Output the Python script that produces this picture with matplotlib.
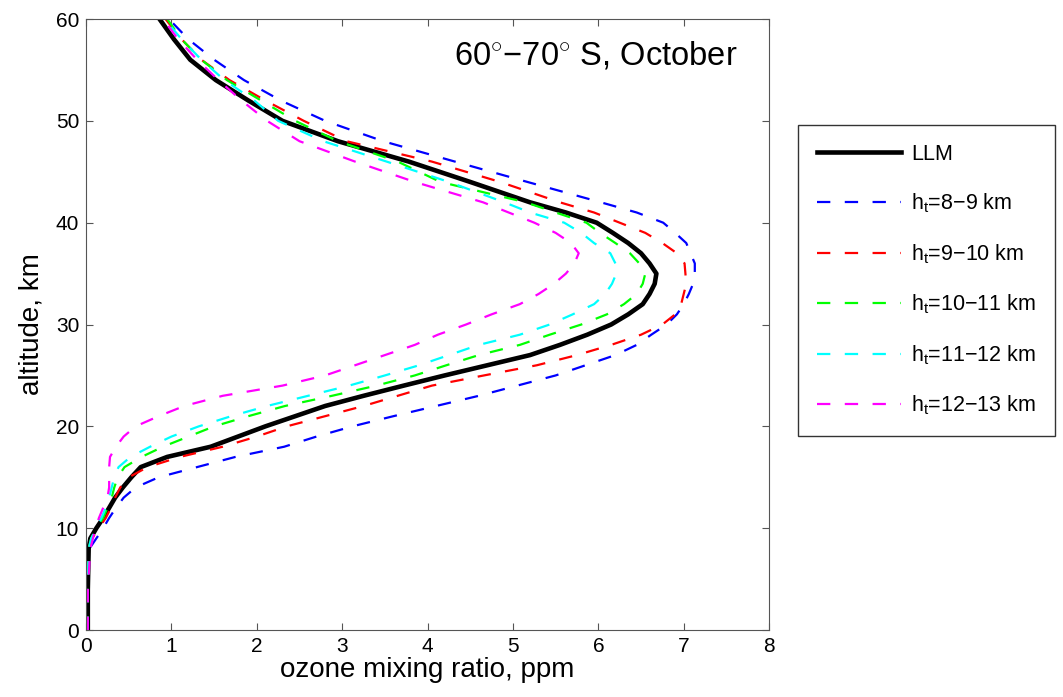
import matplotlib
matplotlib.use("Agg")
import matplotlib.pyplot as plt

plt.rcParams['font.family'] = ['Liberation Sans', 'DejaVu Sans']
plt.rcParams['mathtext.fontset'] = 'custom'
plt.rcParams['mathtext.rm'] = 'Liberation Sans'
plt.rcParams['mathtext.it'] = 'Liberation Sans'

# altitude grid, km
altitude = [0, 4, 8, 9, 10, 11, 12, 13, 14, 15, 16, 17, 18, 19, 20, 21, 22, 23,
            24, 25, 26, 27, 28, 29, 30, 31, 32, 33, 34, 35, 36, 37, 38, 39, 40,
            41, 42, 44, 46, 48, 50, 52, 54, 56, 58, 60]

# ozone mixing ratio, ppm
llm = [0.02, 0.02, 0.03, 0.05, 0.12, 0.20, 0.27, 0.34, 0.43, 0.53, 0.64, 0.95,
       1.46, 1.78, 2.10, 2.45, 2.80, 3.25, 3.72, 4.20, 4.70, 5.20, 5.55, 5.87,
       6.15, 6.35, 6.52, 6.60, 6.66, 6.68, 6.60, 6.50, 6.35, 6.17, 5.98, 5.62,
       5.20, 4.50, 3.78, 2.95, 2.30, 1.90, 1.52, 1.22, 1.03, 0.86]
ht_8_9 = [0.02, 0.02, 0.04, 0.12, 0.20, 0.27, 0.35, 0.44, 0.58, 0.85, 1.30, 1.75,
          2.32, 2.70, 3.12, 3.60, 4.10, 4.60, 5.05, 5.50, 5.85, 6.20, 6.45, 6.62,
          6.80, 6.92, 7.00, 7.06, 7.11, 7.13, 7.13, 7.08, 7.03, 6.90, 6.76, 6.45,
          6.03, 5.17, 4.32, 3.48, 2.80, 2.28, 1.85, 1.50, 1.20, 0.97]
ht_9_10 = [0.02, 0.02, 0.03, 0.07, 0.15, 0.23, 0.29, 0.34, 0.40, 0.50, 0.72, 1.10,
           1.60, 2.00, 2.35, 2.80, 3.25, 3.65, 4.05, 4.66, 5.28, 5.75, 6.15, 6.50,
           6.75, 6.90, 6.97, 7.00, 7.03, 7.02, 7.01, 6.92, 6.75, 6.55, 6.25, 5.95,
           5.55, 4.85, 4.05, 3.05, 2.55, 2.10, 1.68, 1.35, 1.12, 0.93]
ht_10_11 = [0.02, 0.02, 0.03, 0.06, 0.12, 0.20, 0.25, 0.30, 0.33, 0.37, 0.45, 0.65,
            0.90, 1.20, 1.50, 1.90, 2.33, 2.88, 3.40, 3.85, 4.22, 4.60, 5.08, 5.43,
            5.80, 6.10, 6.30, 6.45, 6.52, 6.55, 6.48, 6.37, 6.20, 6.02, 5.86, 5.50,
            5.15, 4.15, 3.65, 2.95, 2.45, 2.05, 1.65, 1.35, 1.12, 0.95]
ht_11_12 = [0.02, 0.02, 0.03, 0.06, 0.12, 0.18, 0.23, 0.27, 0.30, 0.33, 0.38, 0.52,
            0.75, 1.00, 1.32, 1.70, 2.12, 2.60, 3.08, 3.50, 3.90, 4.25, 4.60, 5.08,
            5.43, 5.70, 5.95, 6.08, 6.16, 6.21, 6.20, 6.14, 5.95, 5.80, 5.60, 5.20,
            4.90, 4.25, 3.52, 2.78, 2.25, 1.97, 1.62, 1.35, 1.12, 0.92]
ht_12_13 = [0.02, 0.02, 0.05, 0.08, 0.11, 0.15, 0.20, 0.25, 0.27, 0.27, 0.27, 0.28,
            0.35, 0.44, 0.58, 0.85, 1.15, 1.60, 2.30, 2.80, 3.15, 3.50, 3.85, 4.12,
            4.45, 4.75, 5.08, 5.30, 5.48, 5.62, 5.72, 5.77, 5.68, 5.50, 5.25, 4.95,
            4.65, 3.85, 3.15, 2.50, 2.12, 1.82, 1.55, 1.30, 1.08, 0.90]

runs = [
    (ht_8_9, 'blue', r'h$_t$=8$-$9 km'),
    (ht_9_10, 'red', r'h$_t$=9$-$10 km'),
    (ht_10_11, '#00ff00', r'h$_t$=10$-$11 km'),
    (ht_11_12, 'cyan', r'h$_t$=11$-$12 km'),
    (ht_12_13, 'magenta', r'h$_t$=12$-$13 km'),
]

fig = plt.figure(figsize=(10.63, 6.97), dpi=100)
ax = fig.add_axes([0.081, 0.0961, 0.6425, 0.8766])

# reference profile underneath, tropopause-height runs dashed on top
h_llm, = ax.plot(llm, altitude, color='k', lw=3.3, label='LLM')
handles = []
for values, color, label in runs:
    h, = ax.plot(values, altitude, color=color, lw=1.6, dashes=(6, 6.5), label=label)
    handles.append(h)

ax.set_xlim(0, 8)
ax.set_ylim(0, 60)
ax.set_xticks(range(0, 9))
ax.set_yticks(range(0, 61, 10))
ax.tick_params(direction='in', top=True, right=True, labelsize=15, length=5,
               color='#555555', pad=5)
for spine in ax.spines.values():
    spine.set_color('#555555')
ax.set_xlabel('ozone mixing ratio, ppm', fontsize=20, labelpad=1)
ax.set_ylabel('altitude, km', fontsize=20, labelpad=8)

ax.text(0.953, 0.925, r'60$^{\circ}$$-$70$^{\circ}$ S, October', transform=ax.transAxes,
        ha='right', va='baseline', fontsize=23.5)

leg = fig.legend([h_llm] + handles, ['LLM'] + [r[2] for r in runs],
                 loc='upper left', bbox_to_anchor=(0.751, 0.82), fontsize=15.5,
                 handlelength=3.9, labelspacing=1.25, borderpad=0.85,
                 handletextpad=0.5, borderaxespad=0, fancybox=False, framealpha=1)
leg.get_frame().set_edgecolor('#333333')
leg.get_frame().set_linewidth(1.0)

fig.savefig('out.png', dpi=100)
